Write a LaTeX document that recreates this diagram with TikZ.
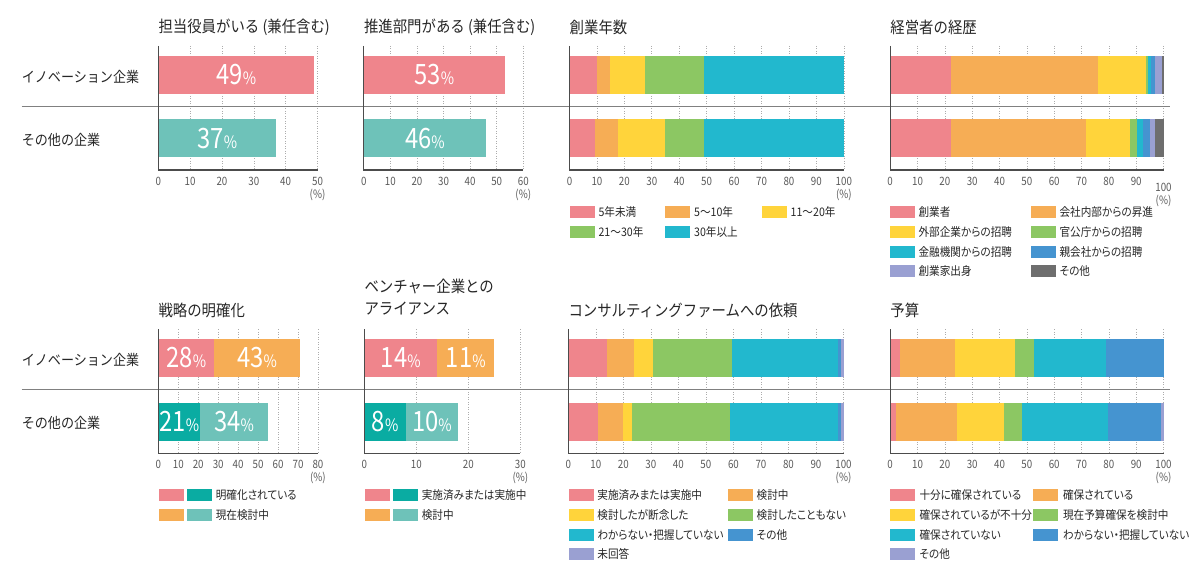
\documentclass[tikz,border=0pt]{standalone}
\usepackage{fontspec}
\setmainfont{Noto Sans CJK JP}[FakeStretch=0.9]
\newfontfamily\numfont{Noto Sans CJK JP}[FakeStretch=0.85]
\newfontfamily\legfont{Noto Sans CJK JP}[FakeStretch=0.9, RawFeature=+palt]
\usetikzlibrary{positioning}
\pgfdeclarelayer{bg}
\pgfdeclarelayer{fg}
\pgfsetlayers{bg,main,fg}

\definecolor{cpink}{HTML}{EF858C}
\definecolor{corange}{HTML}{F6AD55}
\definecolor{cyellow}{HTML}{FFD43B}
\definecolor{cgreen}{HTML}{8CC763}
\definecolor{ccyan}{HTML}{22B8CE}
\definecolor{cblue}{HTML}{4594D0}
\definecolor{clav}{HTML}{9AA0D2}
\definecolor{cgray}{HTML}{6E6E6E}
\definecolor{ctealL}{HTML}{6EC2B9}
\definecolor{ctealD}{HTML}{0AACA2}

% #1 name, #2 x of 0, #3 px per %, #4 top of axis, #5 grid, #6 labels, #7 max, #8 drop of last label
\newcommand{\drawpanel}[8]{%
  \begin{pgfonlayer}{bg}
  \foreach \g in {#5}
    \draw[gridline] ({#2+\g*#3},#4) -- ({#2+\g*#3},#4+124);
  \end{pgfonlayer}
  \begin{pgfonlayer}{fg}
  \draw[axisline] (#2,#4) -- (#2,#4+124) -- ({#2+#7*#3},#4+124);
  \end{pgfonlayer}
  \foreach \tk in {#6}
    \node[ticklbl] (#1-\tk) at ({#2+\tk*#3},#4+135) {\tk};
  \node[ticklbl] (#1-#7) at ({#2+#7*#3},#4+135+#8) {#7};
  \node[ticklbl] (#1-pct) at ({#2+#7*#3},#4+149+#8) {(\%)};
}

% #1 x of 0, #2 px per %, #3 top, #4 bottom, #5 ends/colours
\newcommand{\stackbar}[5]{%
  \foreach \e/\col [remember=\e as \s (initially 0)] in {#5}
    \fill[\col] ({#1+\s*#2},#3) rectangle ({#1+\e*#2},#4);
}

\newcommand{\pc}[1]{{\fontsize{28}{28}\selectfont #1}{\fontsize{17}{17}\selectfont\%}}

\begin{document}
\begin{tikzpicture}[x=1pt, y=-1pt,
  gridline/.style={gray!65, line width=0.6pt, dash pattern=on 1pt off 1.5pt},
  axisline/.style={black!70, line width=1.2pt},
  sepline/.style={black!50, line width=1.2pt},
  ptitle/.style={anchor=west, inner sep=0pt, text=black!85, font=\fontsize{16}{22}\selectfont},
  rowlbl/.style={anchor=west, inner sep=0pt, text=black!85, font=\fontsize{14.5}{16}\selectfont},
  ticklbl/.style={inner sep=0pt, text=black!65, font=\numfont\fontsize{11.5}{12}\selectfont},
  barnum/.style={inner sep=0pt, text=white, font=\numfont},
  swatch/.style={anchor=west, inner sep=0pt, minimum width=25pt, minimum height=12pt},
  legtxt/.style={anchor=west, inner sep=0pt, text=black!85, font=\legfont\fontsize{11.8}{13}\selectfont}]

  \useasboundingbox (0,0) rectangle (1200,577);

  % titles
  \node[ptitle] (t1) at (158.3,27) {担当役員がいる (兼任含む)};
  \node[ptitle] (t2) at (363.8,27) {推進部門がある (兼任含む)};
  \node[ptitle] (t3) at (569.5,27) {創業年数};
  \node[ptitle] (t4) at (890.2,27) {経営者の経歴};
  \node[ptitle] (t5) at (158.3,310.5) {戦略の明確化};
  \node[ptitle, align=left] (t6) at (364.3,297.2) {ベンチャー企業との\\アライアンス};
  \node[ptitle] (t7) at (568.3,310.5) {コンサルティングファームへの依頼};
  \node[ptitle] (t8) at (890.2,310.5) {予算};

  % rows
  \node[rowlbl] (inno1) at (21.7,76.7) {イノベーション企業};
  \node[rowlbl] (other1) at (21.7,140) {その他の企業};
  \node[rowlbl] (inno2) at (21.7,359.5) {イノベーション企業};
  \node[rowlbl] (other2) at (21.7,423.3) {その他の企業};
  \coordinate (sep1l) at (21.7,106.7);
  \coordinate (sep1r) at (1170,106.7);
  \coordinate (sep2l) at (21.7,389.3);
  \coordinate (sep2r) at (1170,389.3);
  \draw[sepline] (sep1l) -- (sep1r);
  \draw[sepline] (sep2l) -- (sep2r);

  % axes
  \drawpanel{c1}{158.3}{3.184}{46}{10,20,...,50}{0,10,...,40}{50}{0}
  \drawpanel{c2}{363.8}{2.658}{46}{10,20,...,60}{0,10,...,50}{60}{0}
  \drawpanel{c3}{569.5}{2.743}{46}{10,20,...,100}{0,10,...,90}{100}{0}
  \drawpanel{c4}{890.2}{2.733}{46}{10,20,...,100}{0,10,...,90}{100}{6.3}
  \drawpanel{c5}{158.3}{1.996}{329.3}{10,20,...,80}{0,10,...,70}{80}{0}
  \drawpanel{c6}{364.3}{5.203}{329.3}{10,20,30}{0,10,20}{30}{0}
  \drawpanel{c7}{568.3}{2.752}{329.3}{10,20,...,100}{0,10,...,90}{100}{0}
  \drawpanel{c8}{890.2}{2.733}{329.3}{10,20,...,100}{0,10,...,90}{100}{0}

  % bars
  \stackbar{158.3}{3.184}{55.8}{94}{49/cpink}
  \stackbar{158.3}{3.184}{119.3}{157.3}{37/ctealL}
  \node[barnum] (c1-a) at ({158.3+24.5*3.184},74.9) {\pc{49}};
  \node[barnum] (c1-b) at ({158.3+18.5*3.184},138.3) {\pc{37}};

  \stackbar{363.8}{2.658}{55.8}{94}{53/cpink}
  \stackbar{363.8}{2.658}{119.3}{157.3}{46/ctealL}
  \node[barnum] (c2-a) at ({363.8+26.5*2.658},74.9) {\pc{53}};
  \node[barnum] (c2-b) at ({363.8+23*2.658},138.3) {\pc{46}};

  \stackbar{569.5}{2.743}{55.8}{94}{10/cpink,14.8/corange,27.5/cyellow,48.9/cgreen,100/ccyan}
  \stackbar{569.5}{2.743}{119.3}{157.3}{9.4/cpink,17.7/corange,34.8/cyellow,49.2/cgreen,100/ccyan}

  \stackbar{890.2}{2.733}{55.8}{94}{22.3/cpink,76.1/corange,93.6/cyellow,94.5/cgreen,95.3/ccyan,96.8/cblue,99.4/clav,100/cgray}
  \stackbar{890.2}{2.733}{119.3}{157.3}{22.4/cpink,71.7/corange,87.8/cyellow,90.4/cgreen,92.4/ccyan,95.1/cblue,97/clav,100/cgray}

  \stackbar{158.3}{1.996}{339}{377}{28/cpink,71/corange}
  \stackbar{158.3}{1.996}{402.7}{440.7}{21/ctealD,55/ctealL}
  \node[barnum] (c5-a) at ({158.3+14*1.996},358) {\pc{28}};
  \node[barnum] (c5-b) at ({158.3+49.5*1.996},358) {\pc{43}};
  \node[barnum] (c5-c) at ({158.3+10.5*1.996},421.7) {\pc{21}};
  \node[barnum] (c5-d) at ({158.3+38*1.996},421.7) {\pc{34}};

  \stackbar{364.3}{5.203}{339}{377}{14/cpink,25/corange}
  \stackbar{364.3}{5.203}{402.7}{440.7}{8/ctealD,18/ctealL}
  \node[barnum] (c6-a) at ({364.3+7*5.203},358) {\pc{14}};
  \node[barnum] (c6-b) at ({364.3+19.5*5.203},358) {\pc{11}};
  \node[barnum] (c6-c) at ({364.3+4*5.203},421.7) {\pc{8}};
  \node[barnum] (c6-d) at ({364.3+13*5.203},421.7) {\pc{10}};

  \stackbar{568.3}{2.752}{339}{377}{14/cpink,24/corange,30.7/cyellow,59.4/cgreen,97.9/ccyan,99.1/cblue,100/clav}
  \stackbar{568.3}{2.752}{402.7}{440.7}{10.9/cpink,19.9/corange,23.1/cyellow,58.9/cgreen,98/ccyan,99.1/cblue,100/clav}

  \stackbar{890.2}{2.733}{339}{377}{3.5/cpink,23.8/corange,45.6/cyellow,52.6/cgreen,78.8/ccyan,100/cblue}
  \stackbar{890.2}{2.733}{402.7}{440.7}{2.3/cpink,24.5/corange,41.7/cyellow,48.2/cgreen,79.8/ccyan,99.1/cblue,100/clav}

  % legends
  \foreach \n/\x/\y/\col/\txt in {a/569.5/212.3/cpink/5年未満, b/665/212.3/corange/5～10年,
      c/761.6/212.3/cyellow/11～20年, d/569.5/231.7/cgreen/21～30年, e/665/231.7/ccyan/30年以上}
    {\node[swatch, fill=\col] (lg3-\n) at (\x,\y) {};
     \node[legtxt, right=3.5pt of lg3-\n] (lg3-\n-t) {\txt};}

  \foreach \n/\x/\y/\col/\txt in {a/889.5/212.3/cpink/創業者, b/1030.5/212.3/corange/会社内部からの昇進,
      c/889.5/232/cyellow/外部企業からの招聘, d/1030.5/232/cgreen/官公庁からの招聘,
      e/889.5/251.7/ccyan/金融機関からの招聘, f/1030.5/251.7/cblue/親会社からの招聘,
      g/889.5/271/clav/創業家出身, h/1030.5/271/cgray/その他}
    {\node[swatch, fill=\col] (lg4-\n) at (\x,\y) {};
     \node[legtxt, right=3.5pt of lg4-\n] (lg4-\n-t) {\txt};}

  \foreach \n/\y/\cola/\colb/\txt in {a/495/cpink/ctealD/明確化されている, b/515/corange/ctealL/現在検討中}
    {\node[swatch, fill=\cola] (lg5-\n) at (158.3,\y) {};
     \node[swatch, fill=\colb, right=3pt of lg5-\n] (lg5-\n2) {};
     \node[legtxt, right=3.5pt of lg5-\n2] (lg5-\n-t) {\txt};}

  \foreach \n/\y/\cola/\colb/\txt in {a/495/cpink/ctealD/実施済みまたは実施中, b/515/corange/ctealL/検討中}
    {\node[swatch, fill=\cola] (lg6-\n) at (364.3,\y) {};
     \node[swatch, fill=\colb, right=3pt of lg6-\n] (lg6-\n2) {};
     \node[legtxt, right=3.5pt of lg6-\n2] (lg6-\n-t) {\txt};}

  \foreach \n/\x/\y/\col/\txt in {a/568.3/495/cpink/実施済みまたは実施中, b/727.6/495/corange/検討中,
      c/568.3/515/cyellow/検討したが断念した, d/727.6/515/cgreen/検討したこともない,
      e/568.3/535/ccyan/わからない・把握していない, f/727.6/535/cblue/その他,
      g/568.3/554.3/clav/未回答}
    {\node[swatch, fill=\col] (lg7-\n) at (\x,\y) {};
     \node[legtxt, right=3.5pt of lg7-\n] (lg7-\n-t) {\txt};}

  \foreach \n/\x/\y/\col/\txt in {a/889.4/495/cpink/十分に確保されている, b/1033/495/corange/確保されている,
      c/889.4/515/cyellow/確保されているが不十分, d/1033/515/cgreen/現在予算確保を検討中,
      e/889.4/535/ccyan/確保されていない, f/1033/535/cblue/わからない・把握していない,
      g/889.4/554.3/clav/その他}
    {\node[swatch, fill=\col] (lg8-\n) at (\x,\y) {};
     \node[legtxt, right=4.5pt of lg8-\n] (lg8-\n-t) {\txt};}

\end{tikzpicture}
\end{document}
